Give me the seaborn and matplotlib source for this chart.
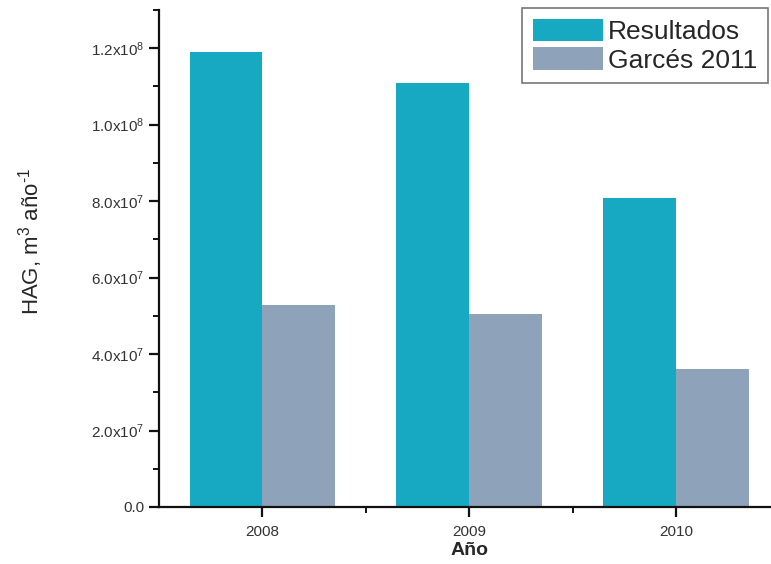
import matplotlib
matplotlib.use("Agg")
import matplotlib.pyplot as plt
import seaborn as sns
import pandas as pd
from matplotlib.ticker import FixedLocator, MultipleLocator, FuncFormatter

# Annual HAG volumes (m^3 per year)
years = ["2008", "2009", "2010"]
series_names = ["Resultados", "Garcés 2011"]
resultados = [1.19e8, 1.108e8, 0.808e8]
garces_2011 = [0.528e8, 0.505e8, 0.361e8]
y_ticks = [0, 2e7, 4e7, 6e7, 8e7, 1.0e8, 1.2e8]
colors = ["#17A9C1", "#8EA2BA"]

df = pd.DataFrame({
    "Año": years * 2,
    "Serie": [series_names[0]] * len(years) + [series_names[1]] * len(years),
    "HAG": resultados + garces_2011,
})

sns.set_style("ticks")
plt.rcParams["font.family"] = ["Liberation Sans", "DejaVu Sans"]
plt.rcParams["mathtext.fontset"] = "custom"
plt.rcParams["mathtext.rm"] = "Liberation Sans"
plt.rcParams["mathtext.it"] = "Liberation Sans:italic"
plt.rcParams["mathtext.bf"] = "Liberation Sans:bold"

fig = plt.figure(figsize=(7.71, 5.64), dpi=100)
ax = fig.add_axes([159 / 771, 1 - 507 / 564, (779.5 - 159) / 771, (507 - 10) / 564])

sns.barplot(data=df, x="Año", y="HAG", hue="Serie", hue_order=series_names,
            palette=colors, width=0.705, gap=0, saturation=1, ax=ax,
            edgecolor="none", linewidth=0)

ax.set_xlim(-0.5, 2.5)
ax.set_ylim(0, 1.3e8)

def sci_fmt(v, pos):
    if v == 0:
        return "0.0"
    exp = 0
    m = v
    while abs(m) >= 10:
        m /= 10
        exp += 1
    return f"{m:.1f}x10$^{{{exp}}}$"

ax.yaxis.set_major_locator(FixedLocator(y_ticks))
ax.yaxis.set_major_formatter(FuncFormatter(sci_fmt))
ax.yaxis.set_minor_locator(MultipleLocator(1e7))
ax.xaxis.set_minor_locator(FixedLocator([0.5, 1.5]))

for side in ["top", "right"]:
    ax.spines[side].set_visible(False)
for side in ["left", "bottom"]:
    ax.spines[side].set_linewidth(1.6)
    ax.spines[side].set_color("#111111")

ax.tick_params(axis="both", which="major", direction="out", length=7, width=1.6,
               color="#111111", labelsize=11, labelcolor="#333333")
ax.tick_params(axis="both", which="minor", direction="out", length=4, width=1.4,
               color="#111111")
ax.tick_params(axis="x", pad=6)

ax.set_xlabel("Año", fontsize=14, fontweight="bold", labelpad=2)
ax.set_ylabel(r"HAG, m$^{3}$ año$^{\text{-}1}$", fontsize=16)
ax.yaxis.set_label_coords(-0.184, 0.535)

handles, labels = ax.get_legend_handles_labels()
leg = ax.legend(handles, labels, loc="upper right",
                bbox_to_anchor=(768 / 771, 1 - 8 / 564), bbox_transform=fig.transFigure,
                fontsize=19, frameon=True, fancybox=False, handlelength=2.65,
                handleheight=0.95, handletextpad=0.2, labelspacing=0.12,
                borderpad=0.4, borderaxespad=0)
leg.get_frame().set_edgecolor("#555555")
leg.get_frame().set_linewidth(1.2)

fig.savefig("out.png", dpi=100)
